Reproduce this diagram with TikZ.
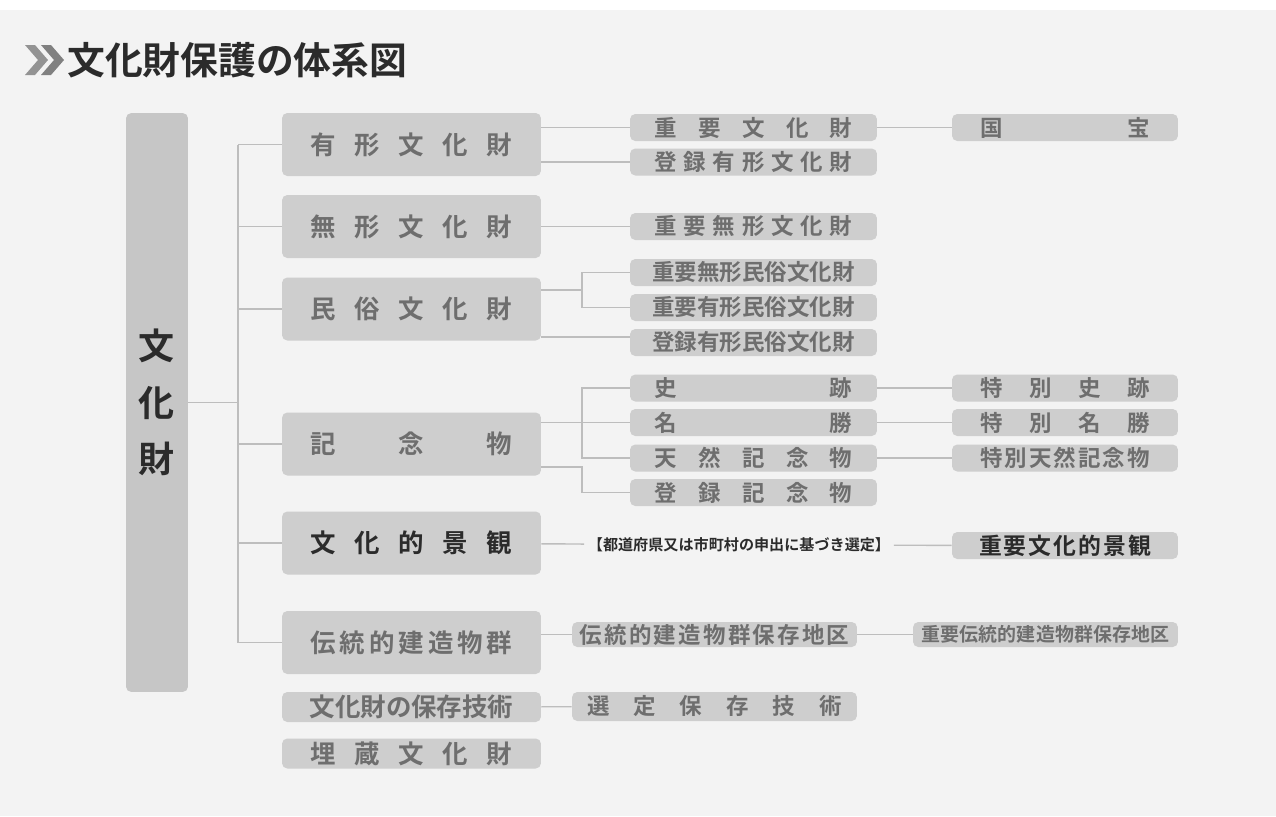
\documentclass[tikz,border=0pt]{standalone}
\usepackage{fontspec}
\IfFontExistsTF{Noto Sans CJK JP Bold}
  {\newfontfamily\jp{Noto Sans CJK JP Bold}}
  {\newfontfamily\jp{Noto Sans CJK JP}[FakeBold=2]}
\usetikzlibrary{shapes}

\definecolor{panel}{HTML}{F3F3F3}
\definecolor{boxgray}{HTML}{CECECE}
\definecolor{biggray}{HTML}{C6C6C6}
\definecolor{labgray}{HTML}{6E6E6E}
\definecolor{darktext}{HTML}{2B2B2B}
\definecolor{linegray}{HTML}{BDBDBD}

% spread the characters over a fixed width
\newcommand{\sprd}[2]{\makebox[#1]{#2}}

\begin{document}
\begin{tikzpicture}[x=0.02cm,y=-0.02cm]
	\tikzstyle{box}=[rectangle,rounded corners=3pt,fill=boxgray,inner sep=0pt,text=labgray]
	\tikzstyle{big}=[box,fill=biggray,minimum width=1.24cm,minimum height=11.58cm,text=darktext,align=center,font=\jp\fontsize{20.5pt}{32.3pt}\selectfont]
	\tikzstyle{lone}=[box,minimum width=5.18cm,minimum height=1.26cm,font=\jp\fontsize{14.5pt}{15pt}\selectfont]
	\tikzstyle{lones}=[lone,minimum height=0.6cm]
	\tikzstyle{ltwo}=[box,minimum width=4.94cm,minimum height=0.54cm,font=\jp\fontsize{12.8pt}{13pt}\selectfont]
	\tikzstyle{lthree}=[box,minimum width=4.52cm,minimum height=0.54cm,font=\jp\fontsize{12.8pt}{13pt}\selectfont]
	\tikzstyle{wide}=[box,minimum width=5.7cm,minimum height=0.5cm,font=\jp\fontsize{12.8pt}{13pt}\selectfont]
	\tikzstyle{link}=[draw=linegray,line width=0.8pt]

	\useasboundingbox (0,0) rectangle (1276,816);
	\fill[white] (0,0) rectangle (1276,816);
	\fill[panel] (0,10) rectangle (1276,816);

	% title
	\fill[gray!85] (25,45) -- (35,45) -- (48,60) -- (35,75) -- (25,75) -- (38,60) -- cycle;
	\fill[gray] (41,45) -- (51,45) -- (64,60) -- (51,75) -- (41,75) -- (54,60) -- cycle;
	\node[anchor=west,inner sep=0pt,text=darktext,font=\jp\fontsize{21.5pt}{23pt}\selectfont] (title) at (67,60) {文化財保護の体系図};

	% left column
	\node[big] (bunkazai) at (157,402.5) {文\\化\\財};

	\node[lone] (yukei) at (411.5,144.5) {\sprd{4.04cm}{有\hfill 形\hfill 文\hfill 化\hfill 財}};
	\node[lone] (mukei) at (411.5,226.5) {\sprd{4.04cm}{無\hfill 形\hfill 文\hfill 化\hfill 財}};
	\node[lone] (minzoku) at (411.5,309) {\sprd{4.04cm}{民\hfill 俗\hfill 文\hfill 化\hfill 財}};
	\node[lone] (kinen) at (411.5,444) {\sprd{4.04cm}{記\hfill 念\hfill 物}};
	\node[lone,text=darktext] (keikan) at (411.5,543) {\sprd{4.04cm}{文\hfill 化\hfill 的\hfill 景\hfill 観}};
	\node[lone] (dento) at (411.5,642.5) {\sprd{4.04cm}{伝\hfill 統\hfill 的\hfill 建\hfill 造\hfill 物\hfill 群}};
	\node[lones] (gijutsu) at (411.5,707) {\sprd{4.04cm}{文\hfill 化\hfill 財\hfill の\hfill 保\hfill 存\hfill 技\hfill 術}};
	\node[lones] (maizo) at (411.5,753.5) {\sprd{4.04cm}{埋\hfill 蔵\hfill 文\hfill 化\hfill 財}};

	% second column
	\node[ltwo] (jubun) at (753.5,127.5) {\sprd{3.96cm}{重\hfill 要\hfill 文\hfill 化\hfill 財}};
	\node[ltwo] (tourokuy) at (753.5,162) {\sprd{3.96cm}{登\hfill 録\hfill 有\hfill 形\hfill 文\hfill 化\hfill 財}};
	\node[ltwo] (jumukei) at (753.5,226.5) {\sprd{3.96cm}{重\hfill 要\hfill 無\hfill 形\hfill 文\hfill 化\hfill 財}};
	\node[ltwo] (jumin) at (753.5,272.5) {\sprd{3.96cm}{重\hfill 要\hfill 無\hfill 形\hfill 民\hfill 俗\hfill 文\hfill 化\hfill 財}};
	\node[ltwo] (juyumin) at (753.5,307.5) {\sprd{3.96cm}{重\hfill 要\hfill 有\hfill 形\hfill 民\hfill 俗\hfill 文\hfill 化\hfill 財}};
	\node[ltwo] (tourokum) at (753.5,342.5) {\sprd{3.96cm}{登\hfill 録\hfill 有\hfill 形\hfill 民\hfill 俗\hfill 文\hfill 化\hfill 財}};
	\node[ltwo] (shiseki) at (753.5,388) {\sprd{3.96cm}{史\hfill 跡}};
	\node[ltwo] (meisho) at (753.5,422.5) {\sprd{3.96cm}{名\hfill 勝}};
	\node[ltwo] (tennen) at (753.5,458) {\sprd{3.96cm}{天\hfill 然\hfill 記\hfill 念\hfill 物}};
	\node[ltwo] (tourokuk) at (753.5,492.5) {\sprd{3.96cm}{登\hfill 録\hfill 記\hfill 念\hfill 物}};
	\node[inner sep=2pt,text=darktext,font=\jp\fontsize{8.6pt}{9pt}\selectfont] (note) at (739,545) {【都道府県又は市町村の申出に基づき選定】};
	\node[wide] (denchiku) at (714.5,634.5) {\sprd{5.4cm}{伝\hfill 統\hfill 的\hfill 建\hfill 造\hfill 物\hfill 群\hfill 保\hfill 存\hfill 地\hfill 区}};
	\node[wide,minimum height=0.58cm] (sentei) at (714.5,706.5) {\sprd{5.1cm}{選\hfill 定\hfill 保\hfill 存\hfill 技\hfill 術}};

	% third column
	\node[lthree] (kokuho) at (1065,127.5) {\sprd{3.4cm}{国\hfill 宝}};
	\node[lthree] (tokushi) at (1065,388) {\sprd{3.4cm}{特\hfill 別\hfill 史\hfill 跡}};
	\node[lthree] (tokumei) at (1065,422.5) {\sprd{3.4cm}{特\hfill 別\hfill 名\hfill 勝}};
	\node[lthree] (tokuten) at (1065,458) {\sprd{3.4cm}{特\hfill 別\hfill 天\hfill 然\hfill 記\hfill 念\hfill 物}};
	\node[lthree,text=darktext,font=\jp\fontsize{13pt}{14pt}\selectfont] (jukeikan) at (1065,545.5) {\sprd{3.44cm}{重\hfill 要\hfill 文\hfill 化\hfill 的\hfill 景\hfill 観}};
	\node[lthree,minimum width=5.3cm,minimum height=0.5cm,font=\jp\fontsize{10.8pt}{11pt}\selectfont] (juden) at (1045.5,634.5) {\sprd{4.96cm}{重\hfill 要\hfill 伝\hfill 統\hfill 的\hfill 建\hfill 造\hfill 物\hfill 群\hfill 保\hfill 存\hfill 地\hfill 区}};

	% connectors
	\coordinate (trunk) at (238,0);
	\coordinate (mk) at (582,290);
	\coordinate (kb) at (582,422.5);
	\coordinate (kc) at (582,467);
	\draw[link] (bunkazai.east) -- (trunk |- bunkazai);
	\draw[link] (trunk |- yukei) -- (trunk |- dento);
	\foreach \n in {yukei,mukei,minzoku,kinen,keikan,dento}
		\draw[link] (trunk |- \n) -- (\n.west);
	\draw[link] (yukei.east |- jubun) -- (jubun.west);
	\draw[link] (yukei.east |- tourokuy) -- (tourokuy.west);
	\draw[link] (jubun) -- (kokuho);
	\draw[link] (mukei) -- (jumukei);
	\draw[link] (minzoku.east |- mk) -- (mk);
	\draw[link] (jumin.west) -| (mk) |- (juyumin.west);
	\draw[link] (minzoku.east |- 0,337) -- (tourokum.west |- 0,337);
	\draw[link] (kinen.east |- meisho) -- (meisho.west);
	\draw[link] (shiseki.west) -| (kb) |- (tennen.west);
	\draw[link] (kinen.east |- kc) -- (kc) |- (tourokuk.west);
	\draw[link] (shiseki) -- (tokushi);
	\draw[link] (meisho) -- (tokumei);
	\draw[link] (tennen) -- (tokuten);
	\draw[link] (keikan) -- (note);
	\draw[link] (note) -- (jukeikan);
	\draw[link] (dento.east |- denchiku) -- (denchiku.west);
	\draw[link] (denchiku) -- (juden);
	\draw[link] (gijutsu) -- (sentei);
\end{tikzpicture}
\end{document}
